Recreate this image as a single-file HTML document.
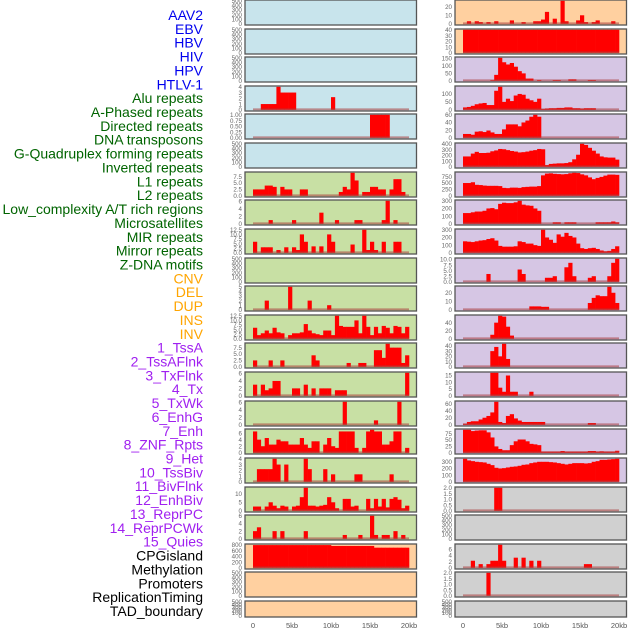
<!DOCTYPE html>
<html><head><meta charset="utf-8">
<style>
html,body{margin:0;padding:0;background:#fff;}
svg{display:block;font-family:"Liberation Sans",sans-serif;}
</style></head>
<body>
<svg id="chart" width="630" height="630" viewBox="0 0 630 630" xmlns="http://www.w3.org/2000/svg"></svg>
<script>
// ---------- data ----------
const trackLabels = ["AAV2","EBV","HBV","HIV","HPV","HTLV-1","Alu repeats","A-Phased repeats","Directed repeats","DNA transposons","G-Quadruplex forming repeats","Inverted repeats","L1 repeats","L2 repeats","Low_complexity A/T rich regions","Microsatellites","MIR repeats","Mirror repeats","Z-DNA motifs","CNV","DEL","DUP","INS","INV","1_TssA","2_TssAFlnk","3_TxFlnk","4_Tx","5_TxWk","6_EnhG","7_Enh","8_ZNF_Rpts","9_Het","10_TssBiv","11_BivFlnk","12_EnhBiv","13_ReprPC","14_ReprPCWk","15_Quies","CPGisland","Methylation","Promoters","ReplicationTiming","TAD_boundary"];
const labelGroups = ["v","v","v","v","v","v","r","r","r","r","r","r","r","r","r","r","r","r","r","s","s","s","s","s","c","c","c","c","c","c","c","c","c","c","c","c","c","c","c","o","o","o","o","o"];
const xTickLabels = ["0","5kb","10kb","15kb","20kb"];
const xTickValues = [0,5,10,15,20];

const noData = [0,0,0,0,0,0,0,0,0,0, 0,0,0,0,0,0,0,0,0,0, 0,0,0,0,0,0,0,0,0,0, 0,0,0,0,0,0,0,0,0,0];
const emptyTicks = ["0","100","200","300","400","500"];

const left3 = [0,0,1,1,1,1,4,3,3,3, 3,0,0,0,0,0,0,0,0,0, 2.2,0,0,0,0,0,0,0,0,0, 0,0,0,0,0,0,0,0,0,0];
const left4 = [0,0,0,0,0,0,0,0,0,0, 0,0,0,0,0,0,0,0,0,0, 0,0,0,0,0,0,0,0,0,0, 1,1,1,1,1,0,0,0,0,0];
const left6 = [2.5,2.5,2.5,4,4,3.5,0,3.5,2.5,2.5, 0,0,2.5,2.5,0,0,0,0,0,0, 0,0,1.5,3.5,2.5,9,6,0,1.5,1.5, 3.5,3.5,2.5,2.5,0,2.5,6.5,6.5,1.5,0];
const left7 = [0,0,0,0,1,0,0,0,0,0, 1,0,0,0,0,0,0,3,0,0, 0,1,0,0,0,0,1,1,0,0, 0,0,0,1,6.2,0,1,0,0,0];
const left8 = [6,0,3,3,3,0,1.5,0,3,0, 3,1.5,10,6,0,3.5,0,3.5,0,10, 6,0,0,0,0,4.5,0,0,12.5,1.5, 6,1.5,0,6,0,0,6,6,0,0];
const left10 = [0,0,0,2,0,0,0,0,0,5, 0,0,0,0,2,0,0,0,0,1, 0,0,0,0,0,0,0,0,0,0, 0,0,0,0,0,0,0,0,0,0];
const left11 = [6,2,3,4.5,3,6,3.5,3,0,2, 3,3,3.5,8,4.5,3,2.5,2,4.5,4.5, 2,12.5,7,6.5,6.5,6.5,10,3,12.5,6.5, 2,6.5,3,7,6,3,7,6.5,3,6.5];
const left12 = [2.5,0,0,0,2.5,0,0,2.5,0,0, 0,0,0,0,0,4.5,2.5,0,0,0, 0,0,0,0,1.5,0,0,1.5,1.5,0, 0,6.5,6.5,3.5,9,7.5,7.5,7.5,1.5,4.5];
const left13 = [3,0,3,1.5,2,4,4,0,0,0, 2,2,0,3,0,2,0,2,2,2, 0,1.5,1.5,1.5,0,0,0,0,0,0, 0,0,0,0,0,0,0,0,0,6.2];
const left14 = [0,0,0,0,0,0,0,0,0,0, 0,0,0,0,0,0,0,0,0,0, 0,0,0,6.2,0,0,0,0,0,0, 0,1.2,0,0,0,0,0,6.2,0,0];
const left15 = [6.5,4,2,4.5,2.5,2.5,4,3.5,3.5,2.5, 2.5,2.5,4.5,2.5,1.5,3.5,3.5,0,2.5,4.5, 2,1.5,6.5,6.5,6.5,6.5,1.5,0,1.5,6.5, 7,6.5,6.5,2.5,2.5,3.5,6.5,6.5,0,1.5];
const left16 = [0,2.2,2.2,2.2,2.2,4,3,0,3,0, 0,0,0,4,2.2,0,0,0,2.2,0, 1.3,0,0,0,0,0,1.3,1.3,0,0, 0,0,0,0,0,1.3,0,0,0,0];
const left17 = [2.5,2.5,0,2.5,5,3,1.5,3,2.5,0, 2.5,3,8,13.5,3,3,2.5,3,3.5,8, 5,1.5,0,7,7,2.5,3,0,0,7, 1.5,7,2.5,7,2,7,8,6.5,1.5,3];
const left18 = [2,3,0,0,0,2,0,2,0,0, 0,0,0,2,0,0,0,0,0,0, 0,0,0,1,0,0,0,1,0,0, 6,1,0,1,1,0,2,0,1,0];
const left19 = [790,790,790,790,790,790,790,790,790,790, 790,790,790,790,790,790,790,790,790,790, 760,760,760,760,760,760,760,760,760,760, 760,700,700,700,700,700,700,700,700,700];

const right0 = [0,3,0,3,2,0,2,0,3,0, 0,0,4,0,0,2,0,0,3,3, 5,14,0,6,0,27,3,0,0,4, 10,2,0,2,4,0,0,0,3,0];
const right1 = [40,40,40,40,40,40,40,40,40,40, 40,40,40,40,40,40,40,40,40,40, 40,40,40,40,40,40,40,40,40,40, 40,40,40,40,40,40,40,40,40,40];
const right2 = [0,0,0,0,0,0,0,5,40,155, 125,110,120,95,65,50,15,15,0,5, 0,0,0,5,5,0,0,10,10,0, 0,0,5,5,0,0,0,0,0,0];
const right3 = [15,18,25,35,40,43,30,30,120,145, 50,70,55,90,100,95,70,60,50,70, 5,8,10,10,12,12,15,15,10,10, 8,10,10,10,0,0,0,0,0,0];
const right4 = [10,10,8,16,17,15,19,14,10,10, 22,35,35,35,30,40,45,55,60,55, 0,0,0,0,0,0,0,0,0,0, 0,0,0,0,0,0,0,0,0,0];
const right5 = [180,180,230,260,240,240,245,270,285,310, 305,290,275,265,250,255,265,280,290,310, 305,30,50,55,60,60,65,80,130,210, 400,380,330,280,230,180,165,160,160,125];
const right6 = [500,500,530,430,420,400,390,390,390,380, 310,300,320,320,310,340,350,360,360,380, 800,870,880,860,850,840,850,880,900,890, 840,800,720,650,700,740,790,830,830,820];
const right7 = [140,140,150,160,160,170,200,205,190,260, 275,270,270,280,300,250,240,235,200,170, 0,0,0,20,20,0,20,20,20,0, 0,0,0,0,20,20,20,20,30,20];
const right8 = [150,145,140,150,160,165,180,190,160,90, 80,80,80,85,150,140,120,120,100,90, 300,200,170,130,240,210,260,220,200,120, 60,50,60,65,50,30,20,25,50,85];
const right9 = [0,0,0,0,0,0,3.5,0,0,0, 0,0,0,0,5.5,3.5,0,0,0,0, 0,1.8,1.8,2.5,0,0,6.5,8.5,2.5,0, 0,0,1.8,2.5,0,0,0,2.5,8.5,10.3];
const right10 = [0,0,0,0,0,0,0,0,0,0, 0,0,0,0,0,0,0,4,4,4, 3.5,3.5,0,0,0,0,0,0,0,0, 0,0,8,14,17,16,16,27,20,8];
const right11 = [0,0,0,0,0,0,0,10,40,57, 55,30,8,0,0,0,0,0,0,0, 0,0,0,0,0,0,0,0,0,0, 0,0,0,0,0,0,0,0,0,0];
const right12 = [0,0,0,0,0,0,0,30,38,20, 44,15,0,0,0,0,0,0,0,0, 0,0,0,0,0,0,0,0,0,0, 0,0,0,0,0,0,0,0,0,0];
const right13 = [0,0,0,0,0,0,0,17,17,6, 3,15,3,3,0,0,0,3,0,0, 0,0,0,0,0,0,0,0,0,0, 0,0,0,0,0,0,0,0,0,0];
const right14 = [3,8,10,10,15,20,25,35,65,8, 5,25,30,18,12,8,8,8,8,8, 8,0,0,0,0,0,0,0,0,0, 0,0,5,5,0,0,0,0,0,0];
const right15 = [90,90,85,87,88,88,80,60,25,15, 10,10,30,45,52,52,45,35,33,30, 5,5,5,5,5,7,5,5,5,5, 5,5,7,7,5,6,5,5,5,8];
const right16 = [345,320,310,300,295,290,270,250,210,200, 205,215,225,230,240,255,260,280,290,300, 300,300,295,290,280,270,260,270,280,280, 280,275,280,300,310,330,330,335,340,345];
const right17 = [0,0,0,0,0,0,0,0,2,2, 0,0,0,0,0,0,0,0,0,0, 0,0,0,0,0,0,0,0,0,0, 0,0,0,0,0,0,0,0,0,0];
const right19 = [0,0,2.3,0,1.2,0,1.2,2.3,2.3,7.5, 2.3,0,0,3.3,0,3.3,0,2.3,0,2.3, 0,0,0,0,0,0,0,0,0,0, 0,1.2,1.2,0,0,0,0,0,0,0];
const right20 = [0,0,0,0,0,0,2,0,0,0, 0,0,0,0,0,0,0,0,0,0, 0,0,0,0,0,0,0,0,0,0, 0,0,0,0,0,0,0,0,0,0];

const leftTracks = [noData,noData,noData,left3,left4,noData,left6,left7,left8,noData,left10,left11,left12,left13,left14,left15,left16,left17,left18,left19,noData,noData];
const rightTracks = [right0,right1,right2,right3,right4,right5,right6,right7,right8,right9,right10,right11,right12,right13,right14,right15,right16,right17,noData,right19,right20,noData];

const leftTicks = [emptyTicks,emptyTicks,emptyTicks,["0","1","2","3","4"],["0.00","0.25","0.50","0.75","1.00"],emptyTicks,
 ["0.0","2.5","5.0","7.5"],["0","2","4","6"],["0.0","2.5","5.0","7.5","10.0","12.5"],emptyTicks,["0","1","2","3","4","5"],
 ["0.0","2.5","5.0","7.5","10.0","12.5"],["0.0","2.5","5.0","7.5"],["0","2","4","6"],["0","2","4","6"],["0","2","4","6"],
 ["0","1","2","3","4"],["0","5","10"],["0","2","4","6"],["0","200","400","600","800"],emptyTicks,emptyTicks];
const rightTicks = [["0","10","20"],["0","10","20","30","40"],["0","50","100","150"],["0","50","100"],["0","20","40","60"],
 ["0","100","200","300","400"],["0","250","500","750"],["0","100","200","300"],["0","100","200","300"],
 ["0.0","2.5","5.0","7.5","10.0"],["0","10","20"],["0","20","40"],["0","10","20","30","40"],["0","5","10","15"],
 ["0","20","40","60"],["0","25","50","75"],["0","100","200","300"],["0.0","0.5","1.0","1.5","2.0"],emptyTicks,
 ["0","2","4","6"],["0.0","0.5","1.0","1.5","2.0"],emptyTicks];

// ---------- styles ----------
const groupColor = {v:"#0000ee", r:"#006400", s:"#ffa500", c:"#a020f0", o:"#000000"};
const C = {blue:"#c8e4ec", green:"#c8e0a4", peach:"#ffd0a0", lav:"#d6c6e4", gray:"#d0d0d0"};
const leftBg = i => i<6 ? C.blue : (i<19 ? C.green : C.peach);
const rightBg = i => i<2 ? C.peach : (i<17 ? C.lav : C.gray);

const svg = document.getElementById('chart');
const NS = "http://www.w3.org/2000/svg";
function mk(tag, attrs){ const e=document.createElementNS(NS,tag); for(const k in attrs) e.setAttribute(k,attrs[k]); svg.appendChild(e); return e; }

// labels
trackLabels.forEach((t,i)=>{
  const e = mk('text',{x:203,y:15+i*13.86+5,'text-anchor':'end','font-size':14,fill:groupColor[labelGroups[i]]});
  e.textContent = t;
  
  
});

function drawPanel(col, i, data, ticks){
  const px = col===0 ? 245 : 455;
  const pw = 171.5;
  const top = Math.round(i*28.62);
  const h = i===21 ? 16 : 25;
  const x0 = px+8, kbScale = 7.8;
  const xScale = kb => x0 + kb*kbScale;
  const yTop = top+0.8, yBase = top+h-1.2;
  const tickVals = ticks.map(Number);
  const ymax = Math.max(Math.max(...data), tickVals[tickVals.length-1]);
  const yScale = v => yBase - (v/ymax)*(yBase-yTop);
  const bg = mk('rect',{x:px,y:top,width:pw,height:h,fill:col===0?leftBg(i):rightBg(i),stroke:'#555',"stroke-width":1.3});
  
  
  // bars
  const binW = 20/data.length;
  data.forEach((v,k)=>{
    if(v<=0) return;
    const r = mk('rect',{x:xScale(k*binW),y:yScale(v),width:binW*kbScale+0.3,height:yBase-yScale(v),fill:'#ff0000'});
    
    
  });
  if(Math.max(...data)>0){
    const bl = mk('line',{x1:xScale(0),x2:xScale(20),y1:yBase-0.5,y2:yBase-0.5,stroke:'rgba(170,60,60,0.55)','stroke-width':1.8});
    
    
  }
  // y ticks
  ticks.forEach((t,j)=>{
    const e = mk('text',{x:px-3,y:yScale(tickVals[j])+2.2,'text-anchor':'end','font-size':6.2,fill:'#666'});
    e.textContent = t;
    
    
  });
  if(i===21){
    xTickValues.forEach((v,j)=>{
      const e = mk('text',{x:xScale(v),y:628,'text-anchor':'middle','font-size':7.5,fill:'#555'});
      e.textContent = xTickLabels[j];
      
      
    });
  }
}
leftTracks.forEach((d,i)=>drawPanel(0,i,d,leftTicks[i]));
rightTracks.forEach((d,i)=>drawPanel(1,i,d,rightTicks[i]));
</script>
</body></html>
